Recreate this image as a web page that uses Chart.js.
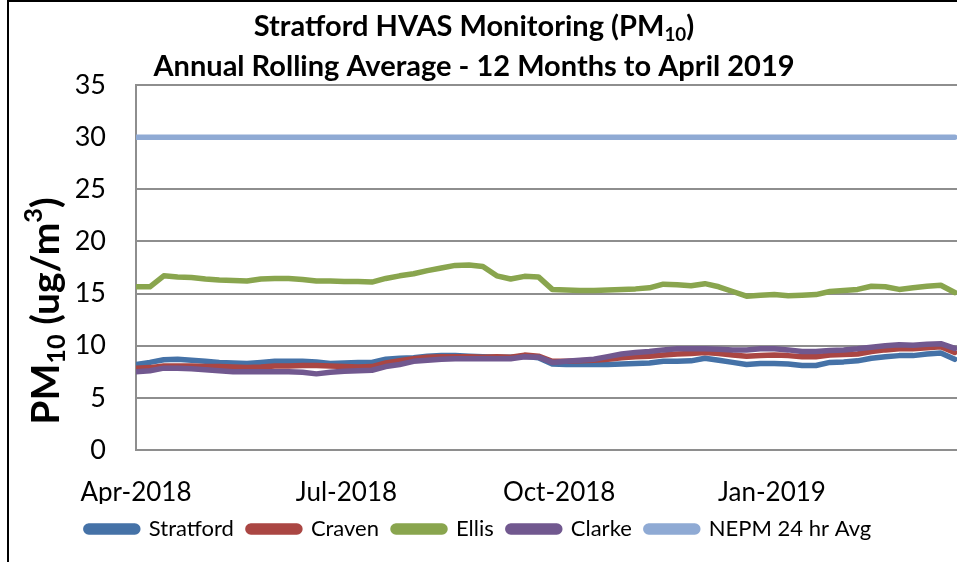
<!DOCTYPE html>
<html lang="en">
<head>
  <meta charset="UTF-8">
  <title>Stratford HVAS Monitoring (PM10)</title>
  <script src="https://cdn.jsdelivr.net/npm/chart.js@4"></script>
  <style>
    html, body { margin: 0; padding: 0; background: #fff; }
    #wrap { width: 957px; height: 562px; position: relative; }
  </style>
</head>
<body>
  <div id="wrap"><canvas id="pmChart"></canvas></div>

  <script>
    // 1-in-6 day HVAS sample dates
    const sampleDates = [
      '2018-04-01', '2018-04-07', '2018-04-13', '2018-04-19', '2018-04-25',
      '2018-05-01', '2018-05-07', '2018-05-13', '2018-05-19', '2018-05-25', '2018-05-31',
      '2018-06-06', '2018-06-12', '2018-06-18', '2018-06-24', '2018-06-30',
      '2018-07-06', '2018-07-12', '2018-07-18', '2018-07-24', '2018-07-30',
      '2018-08-05', '2018-08-11', '2018-08-17', '2018-08-23', '2018-08-29',
      '2018-09-04', '2018-09-10', '2018-09-16', '2018-09-22', '2018-09-28',
      '2018-10-04', '2018-10-10', '2018-10-16', '2018-10-22', '2018-10-28',
      '2018-11-03', '2018-11-09', '2018-11-15', '2018-11-21', '2018-11-27',
      '2018-12-03', '2018-12-09', '2018-12-15', '2018-12-21', '2018-12-27',
      '2019-01-02', '2019-01-08', '2019-01-14', '2019-01-20', '2019-01-26',
      '2019-02-01', '2019-02-07', '2019-02-13', '2019-02-19', '2019-02-25',
      '2019-03-03', '2019-03-09', '2019-03-15', '2019-03-21'
    ];

    const stratford = [
      8.2, 8.4, 8.65, 8.7, 8.6, 8.5, 8.4, 8.35, 8.3, 8.4,
      8.5, 8.5, 8.5, 8.45, 8.3, 8.35, 8.4, 8.4, 8.7, 8.8,
      8.85, 9.0, 9.05, 9.05, 9.0, 8.95, 8.9, 8.9, 9.0, 8.85,
      8.25, 8.2, 8.2, 8.2, 8.2, 8.25, 8.3, 8.35, 8.5, 8.5,
      8.55, 8.8, 8.6, 8.4, 8.2, 8.3, 8.3, 8.25, 8.1, 8.1,
      8.4, 8.45, 8.55, 8.8, 8.95, 9.05, 9.05, 9.2, 9.3, 8.7
    ];
    const craven = [
      7.85, 7.9, 8.05, 8.05, 8.05, 8.0, 8.0, 7.95, 7.9, 7.95,
      8.05, 8.05, 8.1, 8.1, 8.05, 8.0, 7.95, 8.0, 8.35, 8.55,
      8.75, 8.9, 8.95, 8.95, 8.95, 8.9, 8.95, 8.9, 9.1, 9.0,
      8.5, 8.5, 8.55, 8.6, 8.7, 8.85, 8.95, 9.0, 9.1, 9.2,
      9.25, 9.35, 9.25, 9.1, 9.0, 9.05, 9.1, 9.05, 8.95, 8.95,
      9.1, 9.15, 9.2, 9.45, 9.6, 9.7, 9.7, 9.8, 9.9, 9.35
    ];
    const ellis = [
      15.65, 15.65, 16.7, 16.6, 16.55, 16.4, 16.3, 16.25, 16.2, 16.4,
      16.45, 16.45, 16.35, 16.2, 16.2, 16.15, 16.15, 16.1, 16.45, 16.7,
      16.9, 17.2, 17.45, 17.7, 17.75, 17.6, 16.7, 16.4, 16.65, 16.6,
      15.4, 15.35, 15.3, 15.3, 15.35, 15.4, 15.45, 15.55, 15.9, 15.85,
      15.75, 15.95, 15.65, 15.2, 14.75, 14.85, 14.9, 14.8, 14.85, 14.9,
      15.2, 15.3, 15.4, 15.7, 15.65, 15.4, 15.55, 15.7, 15.8, 15.1
    ];
    const clarke = [
      7.5, 7.6, 7.85, 7.85, 7.8, 7.7, 7.6, 7.5, 7.5, 7.5,
      7.5, 7.5, 7.45, 7.3, 7.45, 7.55, 7.6, 7.65, 8.0, 8.2,
      8.5, 8.6, 8.7, 8.75, 8.75, 8.75, 8.75, 8.75, 8.95, 8.9,
      8.4, 8.5, 8.6, 8.7, 8.95, 9.2, 9.35, 9.45, 9.6, 9.7,
      9.7, 9.7, 9.65, 9.6, 9.6, 9.7, 9.7, 9.6, 9.45, 9.45,
      9.55, 9.6, 9.7, 9.85, 10.0, 10.1, 10.05, 10.15, 10.2, 9.75
    ];
    const nepmLimit = 30;

    const tickDates = ['2018-04-01', '2018-07-01', '2018-10-01', '2019-01-01'];
    const tickLabels = ['Apr-2018', 'Jul-2018', 'Oct-2018', 'Jan-2019'];
    const axisEndDate = '2019-03-22';

    const DAY = 86400000;
    const startMs = Date.parse(sampleDates[0]);
    const toDay = d => Math.round((Date.parse(d) - startMs) / DAY);
    const days = sampleDates.map(toDay);
    const tickDays = tickDates.map(toDay);
    const series = vals => vals.map((v, i) => ({ x: days[i], y: v }));

    const FONT = "Lato, 'Liberation Sans', sans-serif";

    // draws a line of text with optional sub/superscript runs, centred on x
    function drawRuns(ctx, runs, x, y, size) {
      let total = 0;
      runs.forEach(r => {
        r.size = r.sub || r.sup ? size * 0.65 : size;
        ctx.font = `bold ${r.size}px ${FONT}`;
        r.w = ctx.measureText(r.t).width;
        total += r.w;
      });
      let cx = x - total / 2;
      ctx.textAlign = 'left';
      ctx.textBaseline = 'middle';
      runs.forEach(r => {
        ctx.font = `bold ${r.size}px ${FONT}`;
        let dy = 0;
        if (r.sub) dy = size * 0.28;
        if (r.sup) dy = -size * 0.3;
        ctx.fillText(r.t, cx, y + dy);
        cx += r.w;
      });
    }

    const decor = {
      id: 'decor',
      beforeDraw(chart) {
        const ctx = chart.ctx;
        ctx.save();
        ctx.fillStyle = '#fff';
        ctx.fillRect(0, 0, chart.width, chart.height);
        ctx.strokeStyle = '#000';
        ctx.lineWidth = 2;
        ctx.beginPath();
        ctx.moveTo(8, chart.height);
        ctx.lineTo(8, 1);
        ctx.lineTo(chart.width, 1);
        ctx.stroke();
        ctx.restore();
      },
      afterDraw(chart) {
        const ctx = chart.ctx;
        ctx.save();
        ctx.fillStyle = '#000';
        drawRuns(ctx, [{ t: 'Stratford HVAS Monitoring (PM' }, { t: '10', sub: true }, { t: ')' }], 474, 27, 29);
        drawRuns(ctx, [{ t: 'Annual Rolling Average - 12 Months to April 2019' }], 474, 67, 29);
        ctx.translate(46, 311);
        ctx.rotate(-Math.PI / 2);
        drawRuns(ctx, [{ t: 'PM' }, { t: '10', sub: true }, { t: ' (ug/m' }, { t: '3', sup: true }, { t: ')' }], 0, 0, 39);
        ctx.restore();
      }
    };

    const line = (label, vals, color, order) => ({
      label: label,
      data: series(vals),
      borderColor: color,
      backgroundColor: color,
      borderWidth: 5.5,
      borderCapStyle: 'round',
      borderJoinStyle: 'round',
      pointRadius: 0,
      tension: 0,
      order: order
    });

    new Chart(document.getElementById('pmChart'), {
      type: 'line',
      data: {
        datasets: [
          line('Stratford', stratford, '#4572A7', 4),
          line('Craven', craven, '#AA4643', 3),
          line('Ellis', ellis, '#89A54E', 2),
          line('Clarke', clarke, '#71588F', 1),
          line('NEPM 24 hr Avg', sampleDates.map(() => nepmLimit), '#8FAAD4', 0)
        ]
      },
      options: {
        responsive: true,
        maintainAspectRatio: false,
        animation: false,
        layout: { padding: { top: 85, left: 0, right: 0, bottom: 12 } },
        plugins: {
          title: { display: false },
          tooltip: { enabled: false },
          legend: {
            position: 'bottom',
            labels: {
              sort: (a, b) => a.datasetIndex - b.datasetIndex,
              boxWidth: 52,
              boxHeight: 6,
              useBorderRadius: true,
              borderRadius: 3,
              padding: 14,
              color: '#000',
              font: { family: FONT, size: 22 }
            }
          }
        },
        scales: {
          x: {
            type: 'linear',
            min: 0,
            max: toDay(axisEndDate),
            afterBuildTicks: axis => { axis.ticks = tickDays.map(v => ({ value: v })); },
            afterFit: axis => { axis.height = 54; },
            ticks: {
              autoSkip: false,
              maxRotation: 0,
              padding: 27,
              color: '#000',
              font: { family: FONT, size: 26 },
              callback: v => tickLabels[tickDays.indexOf(v)]
            },
            grid: { display: false, drawTicks: false },
            border: { color: '#8e8e8e', width: 2 }
          },
          y: {
            min: 0,
            max: 35,
            afterFit: axis => { axis.width = 136; },
            ticks: {
              stepSize: 5,
              padding: 30,
              color: '#000',
              font: { family: FONT, size: 27 }
            },
            grid: { color: '#8e8e8e', lineWidth: 2, drawTicks: false },
            border: { color: '#8e8e8e', width: 2 }
          }
        }
      },
      plugins: [decor]
    });
  </script>
</body>
</html>
